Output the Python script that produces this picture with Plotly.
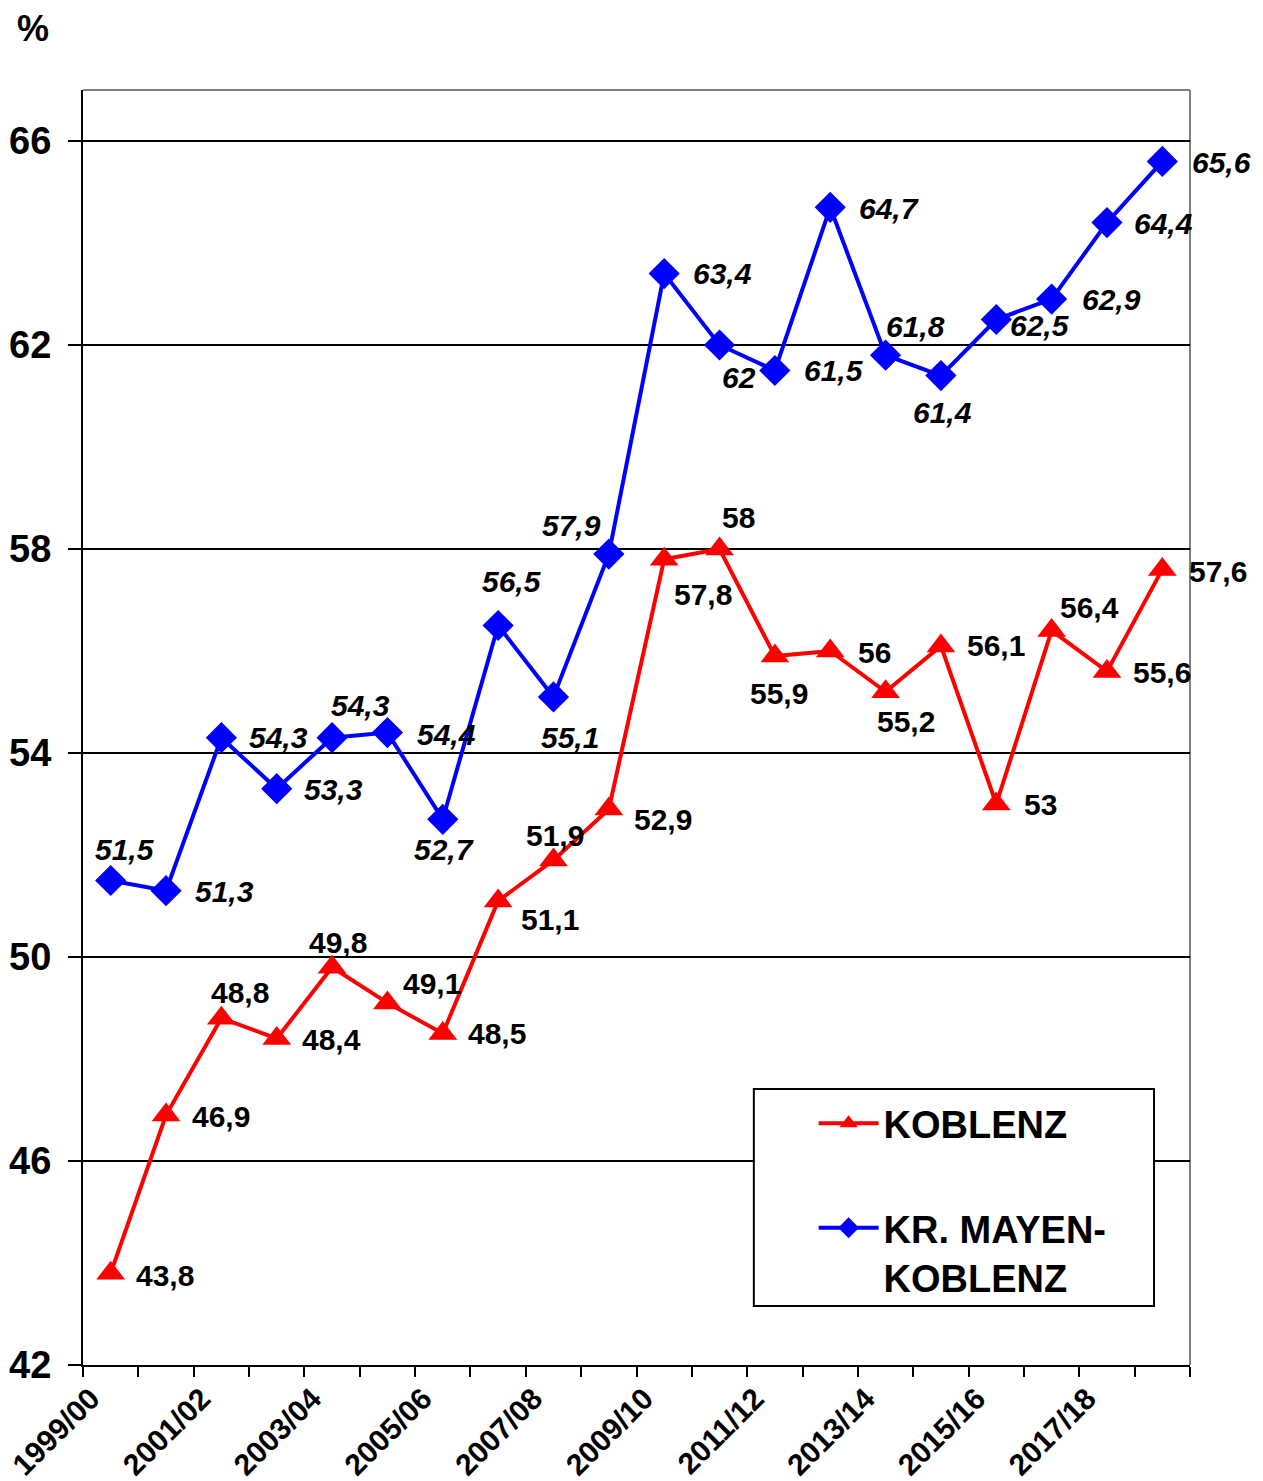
import plotly.graph_objects as go

categories = ["1999/00", "2000/01", "2001/02", "2002/03", "2003/04", "2004/05", "2005/06",
              "2006/07", "2007/08", "2008/09", "2009/10", "2010/11", "2011/12", "2012/13",
              "2013/14", "2014/15", "2015/16", "2016/17", "2017/18", "2018/19"]
koblenz = [43.8, 46.9, 48.8, 48.4, 49.8, 49.1, 48.5, 51.1, 51.9, 52.9,
           57.8, 58.0, 55.9, 56.0, 55.2, 56.1, 53.0, 56.4, 55.6, 57.6]
mayen = [51.5, 51.3, 54.3, 53.3, 54.3, 54.4, 52.7, 56.5, 55.1, 57.9,
         63.4, 62.0, 61.5, 64.7, 61.8, 61.4, 62.5, 62.9, 64.4, 65.6]
y_ticks = [42, 46, 50, 54, 58, 62, 66]

# label offsets in screen pixels (dx right, dy down) -- styling only
red_off = [(54, 2), (55, 1), (19, -26), (55, 1), (6, -25), (45, -19), (54, 0), (52, 19),
           (2, -25), (54, 10), (39, 35), (19, -32), (4, 37), (44, 1), (20, 30), (55, 0),
           (44, 0), (38, -23), (55, 1), (56, 2)]
blue_off = [(14, -31), (58, 1), (57, 0), (57, 1), (28, -32), (59, 2), (1, 30), (14, -44),
            (17, 41), (-37, -29), (58, 0), (19, 32), (59, 0), (59, 1), (30, -29), (2, 37),
            (44, 6), (60, 0), (57, 1), (59, 1)]

FONT = "Arial, Liberation Sans, Helvetica, sans-serif"
xs = [i + 0.5 for i in range(len(categories))]

fig = go.Figure()
fig.add_trace(go.Scatter(
    x=xs, y=koblenz, mode="lines+markers", name="KOBLENZ",
    line=dict(color="#ff0000", width=4),
    marker=dict(symbol="triangle-up", size=25, color="#ff0000"),
    legendgroup="a", cliponaxis=False))
fig.add_trace(go.Scatter(
    x=xs, y=mayen, mode="lines+markers", name="KR. MAYEN-<br>KOBLENZ",
    line=dict(color="#0000ff", width=4),
    marker=dict(symbol="diamond", size=24, color="#0000ff"),
    legendgroup="b", cliponaxis=False))

def fmt(v):
    return f"{v:g}".replace(".", ",")

for x, v, (dx, dy) in zip(xs, koblenz, red_off):
    fig.add_annotation(x=x, y=v, text=fmt(v), showarrow=False, xshift=dx, yshift=-dy,
                       font=dict(family=FONT, size=30, color="black", weight="bold"))
for x, v, (dx, dy) in zip(xs, mayen, blue_off):
    fig.add_annotation(x=x, y=v, text=fmt(v), showarrow=False, xshift=dx, yshift=-dy,
                       font=dict(family=FONT, size=30, color="black", weight="bold", style="italic"))

fig.add_annotation(xref="paper", yref="paper", x=-0.045, y=1.0486, text="%", showarrow=False,
                   xanchor="center", yanchor="middle",
                   font=dict(family=FONT, size=36, color="black", weight="bold"))

# gray top/right frame
fig.add_shape(type="line", xref="paper", yref="paper", x0=0, x1=1, y0=1, y1=1,
              line=dict(color="#808080", width=2), layer="below")
fig.add_shape(type="line", xref="paper", yref="paper", x0=1, x1=1, y0=0, y1=1,
              line=dict(color="#808080", width=2), layer="below")
# legend box
fig.add_shape(type="rect", xref="paper", yref="paper", x0=0.606, x1=0.9675, y0=0.0463, y1=0.2165,
              line=dict(color="black", width=2), fillcolor="white", layer="above")

ticktext = [categories[i] if (i % 2 == 0 and i < len(categories)) else "" for i in range(21)]

fig.update_layout(
    width=1263, height=1481,
    margin=dict(l=83, r=73, t=90, b=116),
    paper_bgcolor="white", plot_bgcolor="white",
    font=dict(family=FONT, color="black"),
    showlegend=True,
    legend=dict(x=0.66, y=0.214, xanchor="left", yanchor="top",
                bgcolor="rgba(0,0,0,0)", borderwidth=0,
                font=dict(family=FONT, size=38, color="black", weight="bold"),
                tracegroupgap=52, valign="top", itemwidth=60),
    xaxis=dict(range=[0, 20], tickmode="array", tickvals=list(range(21)), ticktext=ticktext,
               tickangle=-45, ticks="outside", ticklen=10, tickwidth=2, tickcolor="black",
               showline=True, linecolor="black", linewidth=2, showgrid=False, zeroline=False,
               automargin=False, ticklabeloverflow="allow",
               ticklabelstandoff=-8, ticklabelshift=8,
               tickfont=dict(family=FONT, size=30, color="black", weight="bold")),
    yaxis=dict(range=[42, 67], tickmode="array", tickvals=y_ticks,
               ticks="outside", ticklen=13, tickwidth=2, tickcolor="black",
               showline=True, linecolor="black", linewidth=2,
               showgrid=True, gridcolor="black", gridwidth=1.5, zeroline=False,
               ticklabelstandoff=9, automargin=False, ticklabeloverflow="allow",
               tickfont=dict(family=FONT, size=38, color="black", weight="bold")),
)

fig.write_html("out.html")
